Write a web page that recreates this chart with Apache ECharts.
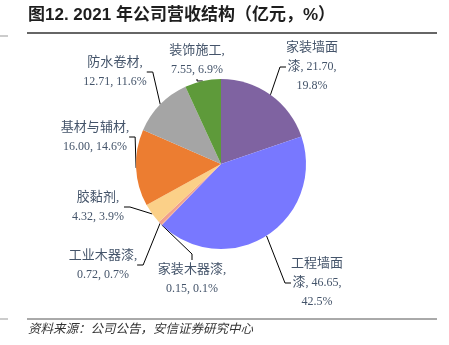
<!DOCTYPE html>
<html>
<head>
<meta charset="utf-8">
<script src="https://cdn.jsdelivr.net/npm/echarts@6/dist/echarts.min.js"></script>
<style>
  html, body { margin: 0; padding: 0; background: #fff; }
  #chart { width: 449px; height: 345px; }
</style>
</head>
<body>
<div id="chart"></div>
<script>
// 2021 revenue structure (100 million yuan, %)
const categories = ['家装墙面漆', '工程墙面漆', '家装木器漆', '工业木器漆', '胶黏剂', '基材与辅材', '防水卷材', '装饰施工'];
const revenue = [21.70, 46.65, 0.15, 0.72, 4.32, 16.00, 12.71, 7.55];
const share = [19.8, 42.5, 0.1, 0.7, 3.9, 14.6, 11.6, 6.9];
const sliceColors = ['#7F63A1', '#7878FF', '#F2A68C', '#F0A08C', '#FBD088', '#EC7D31', '#A5A5A5', '#5E9A3A'];

// label text per slice (line breaks as printed); CJK runs use the wider "c" style
const labelText = [
  '{c|家装墙面}\n{c|漆}, $v,\n$p%',
  '{c|工程墙面}\n{c|漆}, $v,\n$p%',
  '{c|家装木器漆,}\n$v, $p%',
  '{c|工业木器漆,}\n$v, $p%',
  '{c|胶黏剂,}\n$v, $p%',
  '{c|基材与辅材,}\n$v, $p%',
  '{c|防水卷材,}\n$v, $p%',
  '{c|装饰施工,}\n$v, $p%'
];
// label anchor (centre of the text block) per slice
const labelPos = [
  [312, 67], [317, 283], [192, 279], [103, 265],
  [98, 207], [95, 137], [115, 72], [197, 60]
];

const chart = echarts.init(document.getElementById('chart'));
const txtFont = '"Liberation Serif", "Noto Sans CJK SC", serif';

chart.setOption({
  animation: false,
  graphic: [
    { type: 'text', left: 28, top: 7, style: { text: '图12. 2021 年公司营收结构（亿元，%）', font: 'bold 17px "Liberation Sans", "Noto Sans CJK SC", sans-serif', fill: '#1e1e1e' } },
    { type: 'line', shape: { x1: 27, y1: 33, x2: 437, y2: 33 }, style: { stroke: '#333', lineWidth: 1.5 } },
    { type: 'line', shape: { x1: 0, y1: 36, x2: 8, y2: 36 }, style: { stroke: '#999', lineWidth: 1 } },
    { type: 'line', shape: { x1: 27, y1: 319, x2: 437, y2: 319 }, style: { stroke: '#555', lineWidth: 1 } },
    { type: 'line', shape: { x1: 0, y1: 319, x2: 8, y2: 319 }, style: { stroke: '#999', lineWidth: 1 } },
    { type: 'text', left: 28, top: 322, style: { text: '资料来源：公司公告，安信证券研究中心', font: 'italic 12.5px "Noto Sans CJK SC", sans-serif', fill: '#333' } }
  ],
  series: [{
    type: 'pie',
    center: [221, 164],
    radius: 85,
    startAngle: 90,
    clockwise: true,
    data: categories.map((n, i) => ({ name: n, value: revenue[i], itemStyle: { color: sliceColors[i] } })),
    label: {
      show: true,
      position: 'outside',
      color: '#44546A',
      fontFamily: txtFont,
      fontSize: 12,
      lineHeight: 19,
      align: 'center',
      rich: {
        c: { fontFamily: txtFont, fontSize: 13, lineHeight: 19, color: '#44546A' }
      },
      formatter: p => labelText[p.dataIndex]
        .replace('$v', revenue[p.dataIndex].toFixed(2))
        .replace('$p', share[p.dataIndex].toFixed(1))
    },
    labelLine: { show: true, lineStyle: { color: '#000', width: 1 }, length: 10, length2: 6 },
    labelLayout: p => {
      const c = labelPos[p.dataIndex];
      return { x: c[0], y: c[1], align: 'center', verticalAlign: 'middle' };
    }
  }]
});
</script>
</body>
</html>
